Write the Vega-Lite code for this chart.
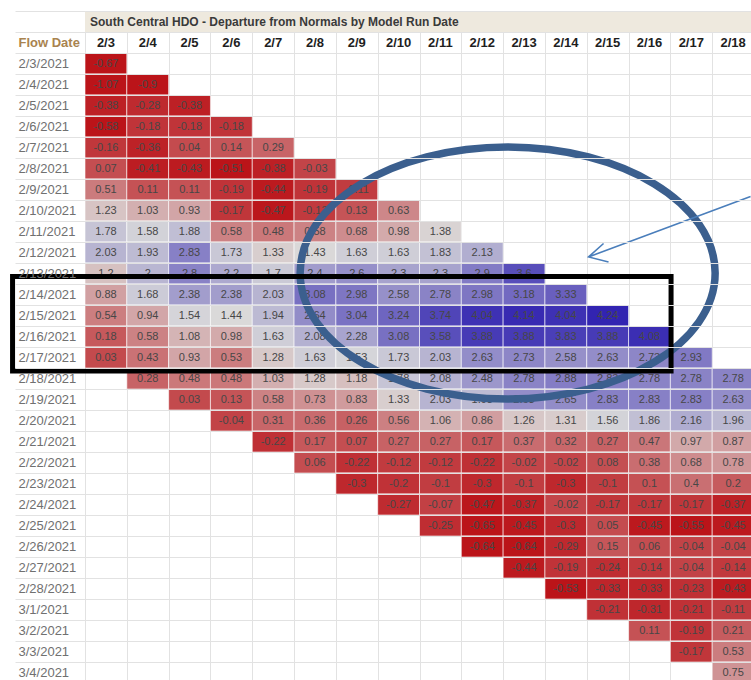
{
  "$schema": "https://vega.github.io/schema/vega-lite/v6.json",
  "width": 669,
  "height": 672,
  "autosize": {"type": "none"},
  "padding": {"left": 85, "top": 11, "right": 0, "bottom": 0},
  "background": "white",
  "config": {"view": {"stroke": null}, "font": "Liberation Sans", "axis": {"labelFont": "Liberation Sans"}},
  "datasets": {
    "runs": [{"run":"2/3"},{"run":"2/4"},{"run":"2/5"},{"run":"2/6"},{"run":"2/7"},{"run":"2/8"},{"run":"2/9"},{"run":"2/10"},{"run":"2/11"},{"run":"2/12"},{"run":"2/13"},{"run":"2/14"},{"run":"2/15"},{"run":"2/16"},{"run":"2/17"},{"run":"2/18"}],
    "cells": [
      {"run":"2/3","flow":"2/3/2021","value":-0.67},{"run":"2/3","flow":"2/4/2021","value":-1.07},{"run":"2/3","flow":"2/5/2021","value":-0.38},{"run":"2/3","flow":"2/6/2021","value":-0.58},{"run":"2/3","flow":"2/7/2021","value":-0.16},{"run":"2/3","flow":"2/8/2021","value":0.07},{"run":"2/3","flow":"2/9/2021","value":0.51},{"run":"2/3","flow":"2/10/2021","value":1.23},{"run":"2/3","flow":"2/11/2021","value":1.78},{"run":"2/3","flow":"2/12/2021","value":2.03},{"run":"2/3","flow":"2/13/2021","value":1.2},{"run":"2/3","flow":"2/14/2021","value":0.88},{"run":"2/3","flow":"2/15/2021","value":0.54},{"run":"2/3","flow":"2/16/2021","value":0.18},{"run":"2/3","flow":"2/17/2021","value":0.03},
      {"run":"2/4","flow":"2/4/2021","value":-0.9},{"run":"2/4","flow":"2/5/2021","value":-0.28},{"run":"2/4","flow":"2/6/2021","value":-0.18},{"run":"2/4","flow":"2/7/2021","value":-0.36},{"run":"2/4","flow":"2/8/2021","value":-0.41},{"run":"2/4","flow":"2/9/2021","value":0.11},{"run":"2/4","flow":"2/10/2021","value":1.03},{"run":"2/4","flow":"2/11/2021","value":1.58},{"run":"2/4","flow":"2/12/2021","value":1.93},{"run":"2/4","flow":"2/13/2021","value":2},{"run":"2/4","flow":"2/14/2021","value":1.68},{"run":"2/4","flow":"2/15/2021","value":0.94},{"run":"2/4","flow":"2/16/2021","value":0.58},{"run":"2/4","flow":"2/17/2021","value":0.43},{"run":"2/4","flow":"2/18/2021","value":0.28},
      {"run":"2/5","flow":"2/5/2021","value":-0.38},{"run":"2/5","flow":"2/6/2021","value":-0.18},{"run":"2/5","flow":"2/7/2021","value":0.04},{"run":"2/5","flow":"2/8/2021","value":-0.43},{"run":"2/5","flow":"2/9/2021","value":0.11},{"run":"2/5","flow":"2/10/2021","value":0.93},{"run":"2/5","flow":"2/11/2021","value":1.88},{"run":"2/5","flow":"2/12/2021","value":2.83},{"run":"2/5","flow":"2/13/2021","value":2.8},{"run":"2/5","flow":"2/14/2021","value":2.38},{"run":"2/5","flow":"2/15/2021","value":1.54},{"run":"2/5","flow":"2/16/2021","value":1.08},{"run":"2/5","flow":"2/17/2021","value":0.93},{"run":"2/5","flow":"2/18/2021","value":0.48},{"run":"2/5","flow":"2/19/2021","value":0.03},
      {"run":"2/6","flow":"2/6/2021","value":-0.18},{"run":"2/6","flow":"2/7/2021","value":0.14},{"run":"2/6","flow":"2/8/2021","value":-0.51},{"run":"2/6","flow":"2/9/2021","value":-0.19},{"run":"2/6","flow":"2/10/2021","value":-0.17},{"run":"2/6","flow":"2/11/2021","value":0.58},{"run":"2/6","flow":"2/12/2021","value":1.73},{"run":"2/6","flow":"2/13/2021","value":2.2},{"run":"2/6","flow":"2/14/2021","value":2.38},{"run":"2/6","flow":"2/15/2021","value":1.44},{"run":"2/6","flow":"2/16/2021","value":0.98},{"run":"2/6","flow":"2/17/2021","value":0.53},{"run":"2/6","flow":"2/18/2021","value":0.48},{"run":"2/6","flow":"2/19/2021","value":0.13},{"run":"2/6","flow":"2/20/2021","value":-0.04},
      {"run":"2/7","flow":"2/7/2021","value":0.29},{"run":"2/7","flow":"2/8/2021","value":-0.38},{"run":"2/7","flow":"2/9/2021","value":-0.44},{"run":"2/7","flow":"2/10/2021","value":-0.47},{"run":"2/7","flow":"2/11/2021","value":0.48},{"run":"2/7","flow":"2/12/2021","value":1.33},{"run":"2/7","flow":"2/13/2021","value":1.7},{"run":"2/7","flow":"2/14/2021","value":2.03},{"run":"2/7","flow":"2/15/2021","value":1.94},{"run":"2/7","flow":"2/16/2021","value":1.63},{"run":"2/7","flow":"2/17/2021","value":1.28},{"run":"2/7","flow":"2/18/2021","value":1.03},{"run":"2/7","flow":"2/19/2021","value":0.58},{"run":"2/7","flow":"2/20/2021","value":0.31},{"run":"2/7","flow":"2/21/2021","value":-0.22},
      {"run":"2/8","flow":"2/8/2021","value":-0.03},{"run":"2/8","flow":"2/9/2021","value":-0.19},{"run":"2/8","flow":"2/10/2021","value":-0.13},{"run":"2/8","flow":"2/11/2021","value":0.58},{"run":"2/8","flow":"2/12/2021","value":1.43},{"run":"2/8","flow":"2/13/2021","value":2.4},{"run":"2/8","flow":"2/14/2021","value":3.08},{"run":"2/8","flow":"2/15/2021","value":2.64},{"run":"2/8","flow":"2/16/2021","value":2.08},{"run":"2/8","flow":"2/17/2021","value":1.63},{"run":"2/8","flow":"2/18/2021","value":1.28},{"run":"2/8","flow":"2/19/2021","value":0.73},{"run":"2/8","flow":"2/20/2021","value":0.36},{"run":"2/8","flow":"2/21/2021","value":0.17},{"run":"2/8","flow":"2/22/2021","value":0.06},
      {"run":"2/9","flow":"2/9/2021","value":-0.11},{"run":"2/9","flow":"2/10/2021","value":0.13},{"run":"2/9","flow":"2/11/2021","value":0.68},{"run":"2/9","flow":"2/12/2021","value":1.63},{"run":"2/9","flow":"2/13/2021","value":2.6},{"run":"2/9","flow":"2/14/2021","value":2.98},{"run":"2/9","flow":"2/15/2021","value":3.04},{"run":"2/9","flow":"2/16/2021","value":2.28},{"run":"2/9","flow":"2/17/2021","value":1.53},{"run":"2/9","flow":"2/18/2021","value":1.18},{"run":"2/9","flow":"2/19/2021","value":0.83},{"run":"2/9","flow":"2/20/2021","value":0.26},{"run":"2/9","flow":"2/21/2021","value":0.07},{"run":"2/9","flow":"2/22/2021","value":-0.22},{"run":"2/9","flow":"2/23/2021","value":-0.3},
      {"run":"2/10","flow":"2/10/2021","value":0.63},{"run":"2/10","flow":"2/11/2021","value":0.98},{"run":"2/10","flow":"2/12/2021","value":1.63},{"run":"2/10","flow":"2/13/2021","value":2.3},{"run":"2/10","flow":"2/14/2021","value":2.58},{"run":"2/10","flow":"2/15/2021","value":3.24},{"run":"2/10","flow":"2/16/2021","value":3.08},{"run":"2/10","flow":"2/17/2021","value":1.73},{"run":"2/10","flow":"2/18/2021","value":1.78},{"run":"2/10","flow":"2/19/2021","value":1.33},{"run":"2/10","flow":"2/20/2021","value":0.56},{"run":"2/10","flow":"2/21/2021","value":0.27},{"run":"2/10","flow":"2/22/2021","value":-0.12},{"run":"2/10","flow":"2/23/2021","value":-0.2},{"run":"2/10","flow":"2/24/2021","value":-0.27},
      {"run":"2/11","flow":"2/11/2021","value":1.38},{"run":"2/11","flow":"2/12/2021","value":1.83},{"run":"2/11","flow":"2/13/2021","value":2.3},{"run":"2/11","flow":"2/14/2021","value":2.78},{"run":"2/11","flow":"2/15/2021","value":3.74},{"run":"2/11","flow":"2/16/2021","value":3.58},{"run":"2/11","flow":"2/17/2021","value":2.03},{"run":"2/11","flow":"2/18/2021","value":2.08},{"run":"2/11","flow":"2/19/2021","value":2.03},{"run":"2/11","flow":"2/20/2021","value":1.06},{"run":"2/11","flow":"2/21/2021","value":0.27},{"run":"2/11","flow":"2/22/2021","value":-0.12},{"run":"2/11","flow":"2/23/2021","value":-0.1},{"run":"2/11","flow":"2/24/2021","value":-0.07},{"run":"2/11","flow":"2/25/2021","value":-0.25},
      {"run":"2/12","flow":"2/12/2021","value":2.13},{"run":"2/12","flow":"2/13/2021","value":2.9},{"run":"2/12","flow":"2/14/2021","value":2.98},{"run":"2/12","flow":"2/15/2021","value":4.04},{"run":"2/12","flow":"2/16/2021","value":3.88},{"run":"2/12","flow":"2/17/2021","value":2.63},{"run":"2/12","flow":"2/18/2021","value":2.48},{"run":"2/12","flow":"2/19/2021","value":1.93},{"run":"2/12","flow":"2/20/2021","value":0.86},{"run":"2/12","flow":"2/21/2021","value":0.17},{"run":"2/12","flow":"2/22/2021","value":-0.22},{"run":"2/12","flow":"2/23/2021","value":-0.3},{"run":"2/12","flow":"2/24/2021","value":-0.47},{"run":"2/12","flow":"2/25/2021","value":-0.65},{"run":"2/12","flow":"2/26/2021","value":-0.64},
      {"run":"2/13","flow":"2/13/2021","value":3.6},{"run":"2/13","flow":"2/14/2021","value":3.18},{"run":"2/13","flow":"2/15/2021","value":4.14},{"run":"2/13","flow":"2/16/2021","value":3.88},{"run":"2/13","flow":"2/17/2021","value":2.73},{"run":"2/13","flow":"2/18/2021","value":2.78},{"run":"2/13","flow":"2/19/2021","value":2.63},{"run":"2/13","flow":"2/20/2021","value":1.26},{"run":"2/13","flow":"2/21/2021","value":0.37},{"run":"2/13","flow":"2/22/2021","value":-0.02},{"run":"2/13","flow":"2/23/2021","value":-0.1},{"run":"2/13","flow":"2/24/2021","value":-0.37},{"run":"2/13","flow":"2/25/2021","value":-0.45},{"run":"2/13","flow":"2/26/2021","value":-0.64},{"run":"2/13","flow":"2/27/2021","value":-0.44},
      {"run":"2/14","flow":"2/14/2021","value":3.33},{"run":"2/14","flow":"2/15/2021","value":4.04},{"run":"2/14","flow":"2/16/2021","value":3.83},{"run":"2/14","flow":"2/17/2021","value":2.58},{"run":"2/14","flow":"2/18/2021","value":2.88},{"run":"2/14","flow":"2/19/2021","value":2.65},{"run":"2/14","flow":"2/20/2021","value":1.31},{"run":"2/14","flow":"2/21/2021","value":0.32},{"run":"2/14","flow":"2/22/2021","value":-0.02},{"run":"2/14","flow":"2/23/2021","value":-0.3},{"run":"2/14","flow":"2/24/2021","value":-0.02},{"run":"2/14","flow":"2/25/2021","value":-0.3},{"run":"2/14","flow":"2/26/2021","value":-0.29},{"run":"2/14","flow":"2/27/2021","value":-0.19},{"run":"2/14","flow":"2/28/2021","value":-0.53},
      {"run":"2/15","flow":"2/15/2021","value":4.24},{"run":"2/15","flow":"2/16/2021","value":3.88},{"run":"2/15","flow":"2/17/2021","value":2.63},{"run":"2/15","flow":"2/18/2021","value":2.83},{"run":"2/15","flow":"2/19/2021","value":2.83},{"run":"2/15","flow":"2/20/2021","value":1.56},{"run":"2/15","flow":"2/21/2021","value":0.27},{"run":"2/15","flow":"2/22/2021","value":0.08},{"run":"2/15","flow":"2/23/2021","value":-0.1},{"run":"2/15","flow":"2/24/2021","value":-0.17},{"run":"2/15","flow":"2/25/2021","value":0.05},{"run":"2/15","flow":"2/26/2021","value":0.15},{"run":"2/15","flow":"2/27/2021","value":-0.24},{"run":"2/15","flow":"2/28/2021","value":-0.33},{"run":"2/15","flow":"3/1/2021","value":-0.21},
      {"run":"2/16","flow":"2/16/2021","value":4.08},{"run":"2/16","flow":"2/17/2021","value":2.73},{"run":"2/16","flow":"2/18/2021","value":2.78},{"run":"2/16","flow":"2/19/2021","value":2.83},{"run":"2/16","flow":"2/20/2021","value":1.86},{"run":"2/16","flow":"2/21/2021","value":0.47},{"run":"2/16","flow":"2/22/2021","value":0.38},{"run":"2/16","flow":"2/23/2021","value":0.1},{"run":"2/16","flow":"2/24/2021","value":-0.17},{"run":"2/16","flow":"2/25/2021","value":-0.45},{"run":"2/16","flow":"2/26/2021","value":0.06},{"run":"2/16","flow":"2/27/2021","value":-0.14},{"run":"2/16","flow":"2/28/2021","value":-0.33},{"run":"2/16","flow":"3/1/2021","value":-0.31},{"run":"2/16","flow":"3/2/2021","value":0.11},
      {"run":"2/17","flow":"2/17/2021","value":2.93},{"run":"2/17","flow":"2/18/2021","value":2.78},{"run":"2/17","flow":"2/19/2021","value":2.83},{"run":"2/17","flow":"2/20/2021","value":2.16},{"run":"2/17","flow":"2/21/2021","value":0.97},{"run":"2/17","flow":"2/22/2021","value":0.68},{"run":"2/17","flow":"2/23/2021","value":0.4},{"run":"2/17","flow":"2/24/2021","value":-0.17},{"run":"2/17","flow":"2/25/2021","value":-0.55},{"run":"2/17","flow":"2/26/2021","value":-0.04},{"run":"2/17","flow":"2/27/2021","value":-0.04},{"run":"2/17","flow":"2/28/2021","value":-0.23},{"run":"2/17","flow":"3/1/2021","value":-0.21},{"run":"2/17","flow":"3/2/2021","value":-0.19},{"run":"2/17","flow":"3/3/2021","value":-0.17},
      {"run":"2/18","flow":"2/18/2021","value":2.78},{"run":"2/18","flow":"2/19/2021","value":2.63},{"run":"2/18","flow":"2/20/2021","value":1.96},{"run":"2/18","flow":"2/21/2021","value":0.87},{"run":"2/18","flow":"2/22/2021","value":0.78},{"run":"2/18","flow":"2/23/2021","value":0.2},{"run":"2/18","flow":"2/24/2021","value":-0.37},{"run":"2/18","flow":"2/25/2021","value":-0.45},{"run":"2/18","flow":"2/26/2021","value":-0.04},{"run":"2/18","flow":"2/27/2021","value":-0.14},{"run":"2/18","flow":"2/28/2021","value":-0.43},{"run":"2/18","flow":"3/1/2021","value":-0.11},{"run":"2/18","flow":"3/2/2021","value":0.21},{"run":"2/18","flow":"3/3/2021","value":0.53},{"run":"2/18","flow":"3/4/2021","value":0.75}
    ]
  },
  "layer": [
    {
      "data": {"values": [{"flow": "title"}]},
      "mark": {"type": "rect", "color": "#eee9de"},
      "encoding": {
        "y": {
          "field": "flow", "type": "nominal",
          "scale": {"domain": ["title","header","2/3/2021","2/4/2021","2/5/2021","2/6/2021","2/7/2021","2/8/2021","2/9/2021","2/10/2021","2/11/2021","2/12/2021","2/13/2021","2/14/2021","2/15/2021","2/16/2021","2/17/2021","2/18/2021","2/19/2021","2/20/2021","2/21/2021","2/22/2021","2/23/2021","2/24/2021","2/25/2021","2/26/2021","2/27/2021","2/28/2021","3/1/2021","3/2/2021","3/3/2021","3/4/2021"], "paddingInner": 0, "paddingOuter": 0},
          "axis": {
            "title": null, "orient": "left", "domain": false, "ticks": true, "tickSize": 70, "tickColor": "#e2e2e2", "tickBand": "extent",
            "grid": true, "gridColor": "#e2e2e2", "labelAlign": "left", "labelBaseline": "middle", "labelPadding": -3, "labelFontSize": 13,
            "labelColor": {"condition": {"test": "datum.value === 'header'", "value": "#a9834f"}, "value": "#707070"},
            "labelFontWeight": {"condition": {"test": "datum.value === 'header'", "value": "bold"}, "value": "normal"},
            "labelExpr": "datum.value === 'title' ? '' : datum.value === 'header' ? 'Flow Date' : datum.value"
          }
        }
      }
    },
    {
      "data": {"values": [{"flow": "title", "label": "South Central HDO - Departure from Normals by Model Run Date"}]},
      "mark": {"type": "text", "align": "left", "baseline": "middle", "fontWeight": "bold", "fontSize": 12, "color": "#3a3a3a", "dx": 5},
      "encoding": {
        "x": {"datum": "2/3", "type": "nominal", "bandPosition": 0},
        "y": {"field": "flow", "type": "nominal"},
        "text": {"field": "label", "type": "nominal"}
      }
    },
    {
      "data": {"name": "runs"},
      "mark": {"type": "text", "align": "center", "baseline": "middle", "fontWeight": "bold", "fontSize": 13, "color": "#1e1e1e"},
      "encoding": {
        "x": {
          "field": "run", "type": "nominal",
          "scale": {"domain": ["2/3","2/4","2/5","2/6","2/7","2/8","2/9","2/10","2/11","2/12","2/13","2/14","2/15","2/16","2/17","2/18"], "paddingInner": 0, "paddingOuter": 0},
          "axis": {"title": null, "orient": "top", "labels": false, "ticks": false, "domain": false, "grid": true, "gridColor": "#e2e2e2", "tickBand": "extent"}
        },
        "y": {"datum": "header", "type": "nominal"},
        "text": {"field": "run", "type": "nominal"}
      }
    },
    {
      "data": {"name": "cells"},
      "mark": {"type": "rect", "stroke": "white", "strokeWidth": 1, "strokeOpacity": 0.6},
      "encoding": {
        "x": {"field": "run", "type": "nominal"},
        "y": {"field": "flow", "type": "nominal"},
        "color": {"field": "value", "type": "quantitative", "legend": null,
          "scale": {"domain": [-0.5, 1.45, 4.3], "range": ["#bb1419", "#dadada", "#2e20b0"], "interpolate": "rgb", "clamp": true}}
      }
    },
    {
      "data": {"name": "cells"},
      "mark": {"type": "text", "align": "center", "baseline": "middle", "fontSize": 11, "color": "#474747"},
      "encoding": {
        "x": {"field": "run", "type": "nominal"},
        "y": {"field": "flow", "type": "nominal"},
        "text": {"field": "value", "type": "nominal"}
      }
    },
    {
      "data": {"values": [{}]},
      "mark": {"type": "point", "shape": "M -1 0 A 1 0.607 0 1 1 1 0 A 1 0.607 0 1 1 -1 0 Z", "size": 172225, "filled": false, "stroke": "#3b5f8e", "strokeWidth": 7.5, "opacity": 1},
      "encoding": {
        "x": {"datum": "2/13", "type": "nominal", "bandPosition": 0.108},
        "y": {"datum": "2/13/2021", "type": "nominal", "bandPosition": 0.476}
      }
    },
    {
      "data": {"values": [{}]},
      "mark": {"type": "point", "shape": "M -1 -0.1435 L 1 -0.1435 L 1 0.1435 L -1 0.1435 Z", "size": 433622, "filled": false, "stroke": "#000000", "strokeWidth": 5, "opacity": 1},
      "encoding": {
        "x": {"datum": "2/9", "type": "nominal", "bandPosition": 0.142},
        "y": {"datum": "2/15/2021", "type": "nominal", "bandPosition": 0.89}
      }
    },
    {
      "data": {"values": [{}]},
      "mark": {"type": "point", "shape": "M 0.81 -0.3025 L -0.81 0.3025 M -0.66 0.1685 L -0.81 0.3025 L -0.61 0.3525", "size": 40000, "filled": false, "stroke": "#4a7ebb", "strokeWidth": 1.6, "opacity": 1},
      "encoding": {
        "x": {"datum": "2/16", "type": "nominal", "bandPosition": 0.98},
        "y": {"datum": "2/11/2021", "type": "nominal", "bandPosition": 0.27}
      }
    }
  ]
}
